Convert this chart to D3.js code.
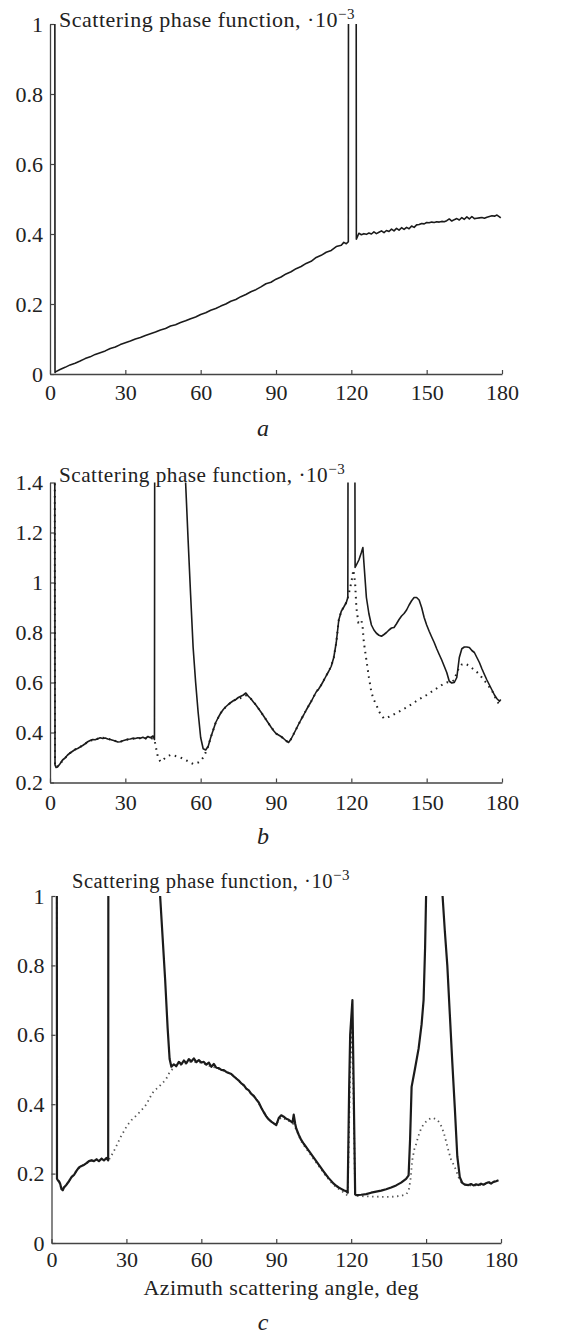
<!DOCTYPE html>
<html>
<head>
<meta charset="utf-8">
<script src="https://cdn.jsdelivr.net/npm/d3@7/dist/d3.min.js"></script>
<style>
  body { margin: 0; background: #fff; }
  text { font-family: 'Liberation Serif', 'Times New Roman', serif; fill: #222; }
</style>
</head>
<body>
<div id="chart"></div>
<script>
// azimuth angle, deg  /  scattering phase function, 10^-3
// values above the frame (1.5, 1.6) are the clipped spikes

// panel a
const anglesA = [0, 1.9, 2, 2.2, 4, 6, 8, 10, 12, 14, 16, 18, 20, 22, 24, 26, 28, 30, 32, 34, 36, 38, 40, 42, 44, 46, 48, 50,
  52, 54, 56, 58, 60, 62, 64, 66, 68, 70, 72, 74, 76, 78, 80, 82, 84, 86, 88, 90, 92, 94, 96, 98, 100, 102, 104, 106, 108,
  110, 112, 114, 116, 117, 118, 118.8, 118.9, 121.9, 122, 123, 124, 125, 126, 127, 128, 129, 130, 131, 132, 133, 134, 135,
  136, 137, 138, 139, 140, 141, 142, 143, 144, 145, 146, 147, 148, 149, 150, 151, 152, 153, 154, 155, 156, 157, 158, 159,
  160, 161, 162, 163, 164, 165, 166, 167, 168, 169, 170, 171, 172, 173, 174, 175, 176, 177, 178, 179, 179.5];
const phaseA = [1.5, 1.5, 0.004, 0.006, 0.013, 0.019, 0.026, 0.031, 0.037, 0.044, 0.049, 0.056, 0.061, 0.066, 0.073, 0.077,
  0.084, 0.089, 0.094, 0.100, 0.104, 0.110, 0.115, 0.120, 0.126, 0.130, 0.137, 0.141, 0.147, 0.152, 0.158, 0.163, 0.170,
  0.175, 0.182, 0.187, 0.194, 0.200, 0.208, 0.213, 0.221, 0.227, 0.235, 0.241, 0.249, 0.258, 0.262, 0.271, 0.277, 0.286,
  0.292, 0.301, 0.307, 0.316, 0.322, 0.333, 0.339, 0.348, 0.353, 0.364, 0.368, 0.376, 0.372, 0.378, 1.5, 1.5, 0.385, 0.402,
  0.398, 0.401, 0.399, 0.403, 0.400, 0.406, 0.401, 0.405, 0.409, 0.404, 0.410, 0.407, 0.414, 0.409, 0.416, 0.411, 0.418,
  0.413, 0.419, 0.415, 0.423, 0.419, 0.426, 0.427, 0.430, 0.429, 0.433, 0.432, 0.434, 0.433, 0.435, 0.434, 0.436, 0.435,
  0.438, 0.443, 0.437, 0.441, 0.444, 0.440, 0.447, 0.442, 0.449, 0.443, 0.450, 0.444, 0.445, 0.446, 0.447, 0.445, 0.448,
  0.450, 0.452, 0.451, 0.454, 0.449, 0.446];

// panel b
const anglesB = [0, 1.9, 2, 2.4, 3, 4, 5, 6, 7, 8, 9, 10, 11, 12, 13, 14, 15, 16, 17, 18, 19, 20, 21, 22, 23, 24, 25, 26, 27,
  28, 29, 30, 31, 32, 33, 34, 35, 36, 37, 38, 39, 40, 41, 41.6, 41.7, 53.8, 54, 55, 56, 57, 58, 59, 60, 61, 62, 63, 64, 65,
  66, 67, 68, 69, 70, 71, 72, 73, 74, 75, 76, 77, 78, 79, 80, 81, 82, 83, 84, 85, 86, 87, 88, 89, 90, 91, 92, 93, 94, 95,
  96, 97, 98, 99, 100, 101, 102, 103, 104, 105, 106, 107, 108, 109, 110, 111, 112, 113, 114, 115, 116, 117, 118, 118.6,
  118.7, 121.4, 121.5, 122, 123, 124, 124.6, 125, 126, 127, 128, 129, 130, 131, 132, 133, 134, 135, 136, 137, 138, 139,
  140, 141, 142, 143, 144, 145, 146, 147, 148, 149, 150, 151, 152, 153, 154, 155, 156, 157, 158, 159, 160, 161, 162, 163,
  164, 165, 166, 167, 168, 169, 170, 171, 172, 173, 174, 175, 176, 177, 178, 179, 179.5];
const phaseB = [1.6, 1.6, 0.27, 0.26, 0.262, 0.275, 0.29, 0.298, 0.31, 0.318, 0.325, 0.332, 0.336, 0.342, 0.348, 0.355, 0.363,
  0.368, 0.372, 0.371, 0.375, 0.379, 0.376, 0.378, 0.374, 0.372, 0.369, 0.366, 0.362, 0.363, 0.367, 0.370, 0.373, 0.374,
  0.377, 0.376, 0.379, 0.377, 0.381, 0.376, 0.384, 0.379, 0.386, 0.372, 1.6, 1.6, 1.4, 1.17, 0.95, 0.74, 0.6, 0.48, 0.38,
  0.335, 0.33, 0.345, 0.38, 0.41, 0.44, 0.46, 0.478, 0.492, 0.503, 0.512, 0.52, 0.527, 0.532, 0.54, 0.545, 0.55, 0.558,
  0.545, 0.535, 0.522, 0.51, 0.496, 0.482, 0.467, 0.452, 0.437, 0.422, 0.408, 0.396, 0.39, 0.384, 0.376, 0.367, 0.36, 0.374,
  0.393, 0.413, 0.433, 0.452, 0.47, 0.489, 0.507, 0.524, 0.543, 0.562, 0.574, 0.59, 0.608, 0.627, 0.645, 0.665, 0.70, 0.76,
  0.85, 0.885, 0.902, 0.92, 0.94, 1.6, 1.6, 1.06, 1.07, 1.09, 1.12, 1.14, 1.08, 0.94, 0.875, 0.83, 0.81, 0.797, 0.789, 0.785,
  0.792, 0.80, 0.81, 0.818, 0.82, 0.835, 0.852, 0.866, 0.876, 0.89, 0.91, 0.927, 0.94, 0.94, 0.93, 0.9, 0.86, 0.83, 0.805,
  0.782, 0.76, 0.735, 0.712, 0.69, 0.665, 0.64, 0.605, 0.598, 0.60, 0.62, 0.70, 0.735, 0.742, 0.742, 0.74, 0.728, 0.72,
  0.70, 0.68, 0.655, 0.632, 0.61, 0.59, 0.57, 0.55, 0.535, 0.525, 0.532];
const anglesBdot = [0, 1.9, 2, 2.4, 4, 6, 8, 10, 12, 14, 16, 18, 20, 22, 24, 26, 28, 30, 32, 34, 36, 38, 40, 41.6, 42, 43, 44,
  45, 46, 47, 48, 49, 50, 51, 52, 53, 54, 55, 56, 57, 58, 59, 60, 61, 62, 63, 64, 66, 68, 70, 72, 74, 75, 76, 77, 78, 79, 80,
  82, 84, 86, 88, 90, 92, 94, 95, 96, 98, 100, 102, 104, 106, 108, 110, 112, 113, 114, 115, 116, 117, 118, 118.6, 119, 120,
  120.8, 121.5, 122, 122.8, 123.5, 124, 124.5, 125, 126, 127, 128, 129, 130, 131, 132, 133, 135, 138, 141, 144, 147, 150,
  153, 156, 158, 160, 161, 162, 163, 164, 165, 166, 168, 170, 172, 174, 176, 178, 179.5];
const phaseBdot = [1.6, 1.6, 0.27, 0.26, 0.275, 0.298, 0.318, 0.332, 0.342, 0.355, 0.368, 0.371, 0.379, 0.378, 0.372, 0.366,
  0.363, 0.370, 0.374, 0.376, 0.377, 0.376, 0.379, 0.372, 0.35, 0.30, 0.283, 0.29, 0.30, 0.306, 0.31, 0.31, 0.306, 0.303,
  0.30, 0.295, 0.29, 0.285, 0.279, 0.274, 0.276, 0.28, 0.286, 0.30, 0.32, 0.345, 0.38, 0.44, 0.478, 0.503, 0.52, 0.532,
  0.535, 0.538, 0.54, 0.548, 0.543, 0.535, 0.51, 0.482, 0.452, 0.422, 0.396, 0.384, 0.367, 0.36, 0.374, 0.413, 0.452, 0.489,
  0.524, 0.562, 0.59, 0.627, 0.665, 0.70, 0.76, 0.85, 0.885, 0.902, 0.92, 0.94, 0.955, 1.0, 1.05, 1.0, 0.9, 0.84, 0.842,
  0.85, 0.82, 0.76, 0.69, 0.62, 0.56, 0.53, 0.51, 0.485, 0.468, 0.456, 0.463, 0.478, 0.495, 0.513, 0.533, 0.55, 0.57, 0.59,
  0.6, 0.603, 0.61, 0.64, 0.66, 0.672, 0.676, 0.672, 0.658, 0.642, 0.62, 0.595, 0.568, 0.525, 0.505];

// panel c
const anglesC = [0, 2.1, 2.2, 2.6, 3, 3.5, 4, 4.5, 5, 6, 7, 8, 9, 10, 11, 12, 13, 14, 15, 16, 17, 18, 19, 20, 21, 22, 22.7,
  22.8, 43, 43.5, 44.5, 45.5, 46.5, 47.3, 48, 49, 50, 51, 52, 53, 54, 55, 56, 57, 58, 59, 60, 61, 62, 63, 64, 65, 66, 67,
  68, 69, 70, 71, 72, 73, 74, 75, 76, 77, 78, 79, 80, 81, 82, 83, 84, 85, 86, 87, 88, 89, 90, 91, 92, 93, 94, 95, 96, 96.5,
  97, 97.6, 98, 99, 100, 101, 102, 103, 104, 105, 106, 107, 108, 109, 110, 111, 112, 113, 114, 115, 116, 117, 118, 118.6,
  119.2, 119.6, 120.5, 121, 121.6, 122, 124, 126, 128, 130, 132, 134, 136, 138, 140, 142, 143, 143.6, 144.2, 145.5, 147,
  148.2, 149, 149.6, 150, 150.3, 156.4, 156.6, 157.5, 158.5, 159.5, 160.5, 161.5, 162.5, 163.5, 164.5, 165.5, 167, 168, 169,
  170, 171, 172, 173, 174, 175, 176, 177, 178, 179];
const phaseC = [1.5, 1.5, 0.185, 0.18, 0.178, 0.17, 0.155, 0.152, 0.16, 0.168, 0.178, 0.19, 0.196, 0.208, 0.218, 0.222, 0.225,
  0.23, 0.236, 0.238, 0.236, 0.241, 0.236, 0.243, 0.238, 0.245, 0.238, 1.5, 1.5, 1.0, 0.88, 0.76, 0.62, 0.53, 0.508, 0.515,
  0.51, 0.522, 0.515, 0.526, 0.518, 0.53, 0.523, 0.532, 0.521, 0.527, 0.52, 0.522, 0.514, 0.52, 0.508, 0.516, 0.505, 0.504,
  0.499, 0.498, 0.493, 0.49, 0.487, 0.48, 0.474, 0.468, 0.46, 0.455, 0.445, 0.44, 0.43, 0.424, 0.414, 0.405, 0.39, 0.377,
  0.365, 0.356, 0.35, 0.345, 0.34, 0.36, 0.368, 0.364, 0.358, 0.355, 0.35, 0.347, 0.37, 0.343, 0.33, 0.312, 0.297, 0.286,
  0.276, 0.266, 0.256, 0.246, 0.236, 0.226, 0.216, 0.206, 0.196, 0.187, 0.179, 0.171, 0.165, 0.16, 0.156, 0.152, 0.149,
  0.145, 0.45, 0.6, 0.70, 0.45, 0.14, 0.138, 0.139, 0.141, 0.145, 0.148, 0.151, 0.155, 0.16, 0.166, 0.174, 0.185, 0.195,
  0.3, 0.45, 0.5, 0.56, 0.63, 0.7, 0.85, 1.0, 1.5, 1.5, 1.0, 0.9, 0.8, 0.66, 0.52, 0.39, 0.25, 0.19, 0.173, 0.168, 0.167,
  0.17, 0.166, 0.169, 0.167, 0.171, 0.168, 0.172, 0.175, 0.171, 0.176, 0.178, 0.181];
const anglesCdot = [0, 2.1, 2.2, 3, 4, 6, 8, 10, 12, 14, 16, 18, 20, 22, 22.7, 23, 24, 25, 26, 27, 28, 29, 30, 31, 32, 33, 34,
  35, 36, 37, 38, 39, 40, 41, 42, 43, 44, 45, 46, 47, 48, 49, 50, 52, 54, 56, 58, 60, 62, 64, 66, 68, 70, 72, 74, 76, 78, 80,
  82, 84, 86, 88, 90, 91, 92, 94, 96, 97, 98, 100, 102, 104, 106, 108, 110, 112, 114, 116, 118, 118.6, 119.2, 119.6, 120.4,
  121, 121.6, 124, 128, 132, 136, 140, 142, 143, 143.7, 144.5, 145.3, 146, 147, 148, 149, 150, 151, 152, 153, 154, 155, 156,
  157, 158, 159, 160, 161, 162, 163, 164, 165, 167, 169, 171, 173, 175, 177, 179];
const phaseCdot = [1.5, 1.5, 0.185, 0.178, 0.155, 0.168, 0.19, 0.208, 0.222, 0.23, 0.238, 0.241, 0.243, 0.245, 0.238, 0.24,
  0.252, 0.265, 0.28, 0.295, 0.31, 0.322, 0.335, 0.345, 0.354, 0.36, 0.368, 0.375, 0.383, 0.39, 0.40, 0.413, 0.427, 0.438,
  0.444, 0.45, 0.458, 0.465, 0.474, 0.488, 0.498, 0.505, 0.51, 0.515, 0.518, 0.523, 0.521, 0.52, 0.514, 0.508, 0.505, 0.499,
  0.493, 0.487, 0.474, 0.46, 0.445, 0.43, 0.414, 0.39, 0.365, 0.35, 0.34, 0.355, 0.362, 0.356, 0.347, 0.342, 0.327, 0.293,
  0.272, 0.252, 0.232, 0.212, 0.192, 0.175, 0.161, 0.151, 0.14, 0.136, 0.35, 0.5, 0.62, 0.4, 0.136, 0.135, 0.134, 0.133,
  0.133, 0.136, 0.14, 0.15, 0.18, 0.24, 0.27, 0.285, 0.31, 0.33, 0.342, 0.35, 0.356, 0.36, 0.36, 0.356, 0.35, 0.338, 0.32,
  0.293, 0.265, 0.24, 0.226, 0.21, 0.19, 0.176, 0.17, 0.166, 0.166, 0.167, 0.168, 0.175, 0.176, 0.181];

// axes
const xTicks = [0, 30, 60, 90, 120, 150, 180];
const yTicksA = [0, 0.2, 0.4, 0.6, 0.8, 1];
const yTicksB = [0.2, 0.4, 0.6, 0.8, 1, 1.2, 1.4];
const yTicksC = [0, 0.2, 0.4, 0.6, 0.8, 1];
const titleText = 'Scattering phase function, \u00b710';
const titleExp = '\u22123';
const xTitleText = 'Azimuth scattering angle, deg';
const panelLetters = ['a', 'b', 'c'];

const svg = d3.select('#chart')
  .append('svg')
  .attr('width', 563)
  .attr('height', 1338);

const fmt = d3.format('~g');

const drawPanel = (p, i) => {
  const x = d3.scaleLinear().domain([0, 180]).range([p.left, p.right]);
  const y = d3.scaleLinear().domain(p.yDomain).range([p.bottom, p.top]);
  const g = svg.append('g');

  g.append('clipPath')
    .attr('id', `clip${i}`)
    .append('rect')
    .attr('x', p.left - 3)
    .attr('y', p.top)
    .attr('width', p.right - p.left + 6)
    .attr('height', p.bottom - p.top);

  const line = d3.line().x(d => x(d[0])).y(d => y(d[1]));

  // dotted curve first, solid on top
  if (p.dot) {
    g.append('path')
      .datum(d3.zip(p.dot[0], p.dot[1]))
      .attr('clip-path', `url(#clip${i})`)
      .attr('fill', 'none')
      .attr('stroke', p.dotColor)
      .attr('stroke-width', p.dotWidth)
      .attr('stroke-dasharray', p.dash)
      .attr('d', line);
  }
  g.append('path')
    .datum(d3.zip(p.solid[0], p.solid[1]))
    .attr('clip-path', `url(#clip${i})`)
    .attr('fill', 'none')
    .attr('stroke', '#1b1b1b')
    .attr('stroke-width', p.width)
    .attr('stroke-linejoin', 'round')
    .attr('d', line);

  const xAxis = g.append('g')
    .attr('transform', `translate(0,${p.bottom})`)
    .call(d3.axisBottom(x).tickValues(xTicks).tickFormat(fmt)
      .tickSizeInner(-4).tickSizeOuter(0).tickPadding(p.xPad));
  const yAxis = g.append('g')
    .attr('transform', `translate(${p.left},0)`)
    .call(d3.axisLeft(y).tickValues(p.yTicks).tickFormat(fmt)
      .tickSizeInner(-4).tickSizeOuter(0).tickPadding(7));

  [xAxis, yAxis].forEach(a => {
    a.select('.domain').attr('stroke', '#444').attr('stroke-width', 1.3);
    a.selectAll('.tick line').attr('stroke', '#444').attr('stroke-width', 1.2);
    a.selectAll('.tick text')
      .attr('fill', '#222')
      .style('font-family', "'Liberation Serif', serif")
      .style('font-size', '22px');
  });

  const title = g.append('text')
    .attr('x', p.titleX)
    .attr('y', p.titleY)
    .style('font-size', `${p.titleSize}px`)
    .style('letter-spacing', '0.5px');
  title.append('tspan').text(titleText);
  title.append('tspan')
    .attr('dy', -8)
    .style('font-size', '15px')
    .text(titleExp);

  if (p.xTitle) {
    g.append('text')
      .attr('x', (p.left + p.right) / 2 + 5)
      .attr('y', p.bottom + 52)
      .attr('text-anchor', 'middle')
      .style('font-size', '22px')
      .style('letter-spacing', '0.4px')
      .text(xTitleText);
  }

  g.append('text')
    .attr('x', 263)
    .attr('y', p.letterY)
    .attr('text-anchor', 'middle')
    .style('font-size', '24px')
    .style('font-style', 'italic')
    .text(panelLetters[i]);
};

const panels = [
  { left: 50, right: 502, top: 24, bottom: 374, yDomain: [0, 1], yTicks: yTicksA,
    solid: [anglesA, phaseA], width: 1.6, xPad: 10, titleX: 59, titleY: 27, titleSize: 22, letterY: 436 },
  { left: 50, right: 502, top: 482.5, bottom: 782.5, yDomain: [0.2, 1.4], yTicks: yTicksB,
    solid: [anglesB, phaseB], width: 1.6, dot: [anglesBdot, phaseBdot], dotColor: '#222', dotWidth: 2,
    dash: '1.6 4.6', xPad: 12, titleX: 59, titleY: 482, titleSize: 21.2, letterY: 844 },
  { left: 51.5, right: 501, top: 896, bottom: 1243, yDomain: [0, 1], yTicks: yTicksC,
    solid: [anglesC, phaseC], width: 2.2, dot: [anglesCdot, phaseCdot], dotColor: '#555', dotWidth: 1.8,
    dash: '1.4 3.6', xPad: 8, titleX: 72, titleY: 888, titleSize: 20.5, letterY: 1330, xTitle: true }
];

panels.forEach(drawPanel);
</script>
</body>
</html>
